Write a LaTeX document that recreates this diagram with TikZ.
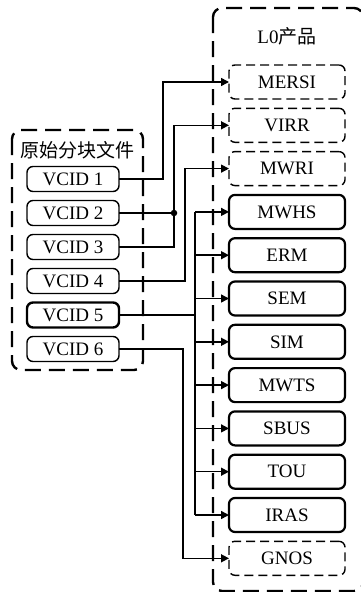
\documentclass[tikz,border=0pt]{standalone}
\usepackage{fontspec}
\setmainfont{Liberation Serif}
\newfontfamily\cjk{Noto Sans CJK SC}
\usepackage{tikz}
\usetikzlibrary{arrows.meta, positioning, calc}

\tikzset{
  group/.style={draw, rounded corners=9pt, line width=2.4pt, dash pattern=on 16pt off 8pt},
  product/.style={draw, rounded corners=6pt, line width=2.2pt, minimum width=116pt, minimum height=34pt,
    inner sep=0pt, outer sep=0pt, font=\fontsize{19}{22}\selectfont},
  pending/.style={product, line width=1.4pt, dash pattern=on 9pt off 5pt},
  source/.style={draw, rounded corners=6pt, line width=1.4pt, minimum width=92pt, minimum height=25pt,
    inner sep=0pt, outer sep=0pt, font=\fontsize{19}{22}\selectfont},
  link/.style={line width=1.5pt},
  feed/.style={link, -{Triangle[length=8pt, width=8pt]}},
  junction/.style={circle, fill, inner sep=0pt, minimum size=6.5pt}
}

\begin{document}
\begin{tikzpicture}[x=1pt, y=-1pt]
  \useasboundingbox (0,0) rectangle (361,592);

  \draw[group] (12,130) rectangle (143,370);
  \draw[group] (213,8) rectangle (363,591);
  \node[font=\fontsize{19}{22}\selectfont] (srctitle) at (77,150) {\cjk 原始分块文件};
  \node[font=\fontsize{19}{22}\selectfont] (l0title) at (287,36) {L0{\cjk 产品}};

  \node[source] (v1) at (73,179) {VCID 1};
  \node[source, below=9pt of v1] (v2) {VCID 2};
  \node[source, below=9pt of v2] (v3) {VCID 3};
  \node[source, below=9pt of v3] (v4) {VCID 4};
  \node[source, line width=2.4pt, below=9pt of v4] (v5) {VCID 5};
  \node[source, below=9pt of v5] (v6) {VCID 6};

  \node[pending] (mersi) at (287,82) {MERSI};
  \node[pending, below=9.3pt of mersi] (virr) {VIRR};
  \node[pending, below=9.3pt of virr] (mwri) {MWRI};
  \node[product, below=9.3pt of mwri] (mwhs) {MWHS};
  \node[product, below=9.3pt of mwhs] (erm) {ERM};
  \node[product, below=9.3pt of erm] (sem) {SEM};
  \node[product, below=9.3pt of sem] (sim) {SIM};
  \node[product, below=9.3pt of sim] (mwts) {MWTS};
  \node[product, below=9.3pt of mwts] (sbus) {SBUS};
  \node[product, below=9.3pt of sbus] (tou) {TOU};
  \node[product, below=9.3pt of tou] (iras) {IRAS};
  \node[pending, below=9.3pt of iras] (gnos) {GNOS};

  \draw[feed] (v1.east) -- ++(44,0) |- (mersi.west);
  \draw[link] (v2.east) -- ++(55,0) node[junction] (j2) {};
  \draw[feed] (v3.east) -- ++(55,0) |- (virr.west);
  \draw[feed] (v4.east) -- ++(66,0) |- (mwri.west);
  \draw[link] (v5.east) -- ++(76,0) coordinate (bus);
  \draw[link] (bus |- mwhs.west) -- (bus |- iras.west);
  \foreach \p in {mwhs,erm,sem,sim,mwts,sbus,tou,iras}
    \draw[feed] (bus |- \p.west) -- (\p.west);
  \draw[feed] (v6.east) -- ++(64,0) |- (gnos.west);
\end{tikzpicture}
\end{document}
